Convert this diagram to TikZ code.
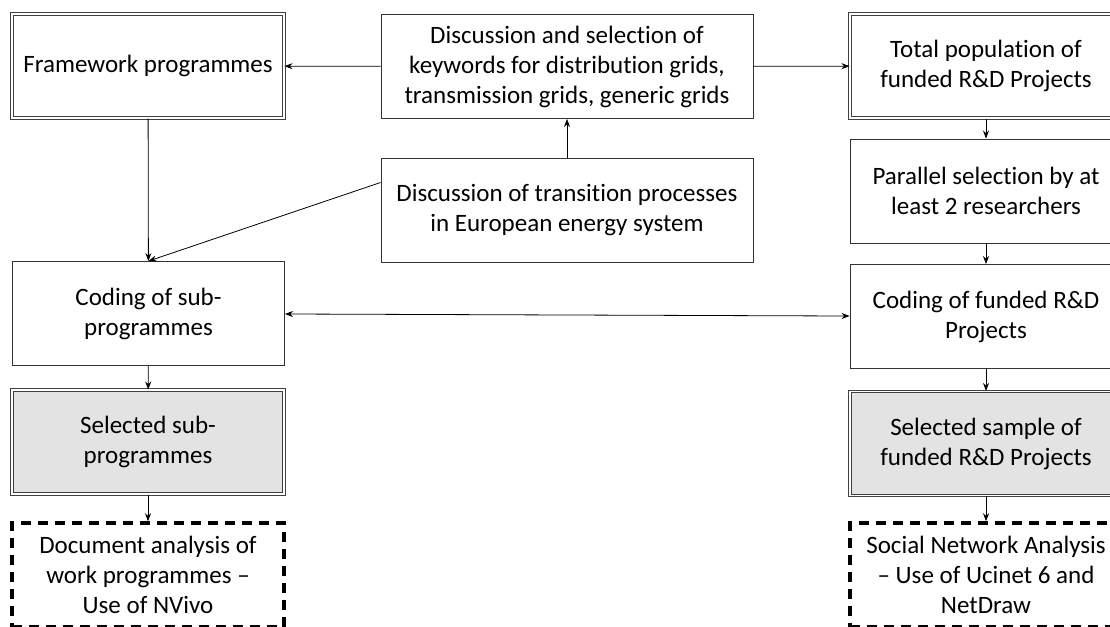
\documentclass[tikz,border=0pt]{standalone}
\usepackage{fontspec}
\setmainfont{Carlito}[Ligatures=NoCommon]
\usetikzlibrary{arrows.meta}
\newcommand{\boxfont}{\fontsize{25}{30}\selectfont}

\begin{document}
\begin{tikzpicture}[x=1pt, y=-1pt,
  every node/.style={draw=black!80, line width=0.9pt, align=center, font=\boxfont, inner sep=4pt},
  stepbox/.style={minimum width=272pt, minimum height=104pt},
  widebox/.style={minimum width=372pt, minimum height=104pt},
  sourcebox/.style={stepbox, draw=black!75, double=white, line width=1pt, double distance=1.6pt},
  resultbox/.style={sourcebox, fill=black!11},
  toolbox/.style={stepbox, draw=black, line width=3.5pt, dash pattern=on 10pt off 7pt},
  >={Stealth[length=8pt,width=6pt]}
]
\useasboundingbox (0,0) rectangle (1110,626);
\clip (0,0) rectangle (1110,626);

\node[sourcebox] (fw)  at (148,66)    {Framework programmes};
\node[widebox]   (kw)  at (567,66.5)  {Discussion and selection of\\ keywords for distribution grids,\\ transmission grids, generic grids};
\node[sourcebox] (tot) at (986,66)    {Total population of\\ funded R\&D Projects};

\node[widebox]   (trans) at (567,210.5) {Discussion of transition processes\\ in European energy system};
\node[stepbox]   (par)   at (986,191)   {Parallel selection by at\\ least 2 researchers};

\node[stepbox]   (csub) at (148.5,313.5) {Coding of sub-\\ programmes};
\node[stepbox]   (cfun) at (986,316.5)   {Coding of funded R\&D\\ Projects};

\node[resultbox] (ssub) at (148,442)   {Selected sub-\\ programmes};
\node[resultbox] (sfun) at (986,443.5) {Selected sample of\\ funded R\&D Projects};

\node[toolbox]   (doc) at (148,575) {Document analysis of\\ work programmes –\\ Use of NVivo};
\node[toolbox]   (sna) at (986,575) {Social Network Analysis\\ – Use of Ucinet 6 and\\ NetDraw};

\draw[->, line width=0.8pt] (kw) -- (fw);
\draw[->, line width=0.8pt] (kw) -- (tot);
\draw[->, line width=0.8pt] (trans) -- (kw);
\draw[->, line width=0.8pt] (fw) -- (csub);
\draw[->, line width=0.8pt] ([yshift=28pt]trans.west) -- (csub.north);
\draw[->, line width=0.8pt] (tot) -- (par);
\draw[->, line width=0.8pt] (par) -- (cfun);
\draw[<->, line width=0.8pt] (csub) -- (cfun);
\draw[->, line width=0.8pt] (csub) -- (ssub);
\draw[->, line width=0.8pt] (cfun) -- (sfun);
\draw[->, line width=0.8pt] (ssub) -- (doc);
\draw[->, line width=0.8pt] (sfun) -- (sna);
\end{tikzpicture}
\end{document}
